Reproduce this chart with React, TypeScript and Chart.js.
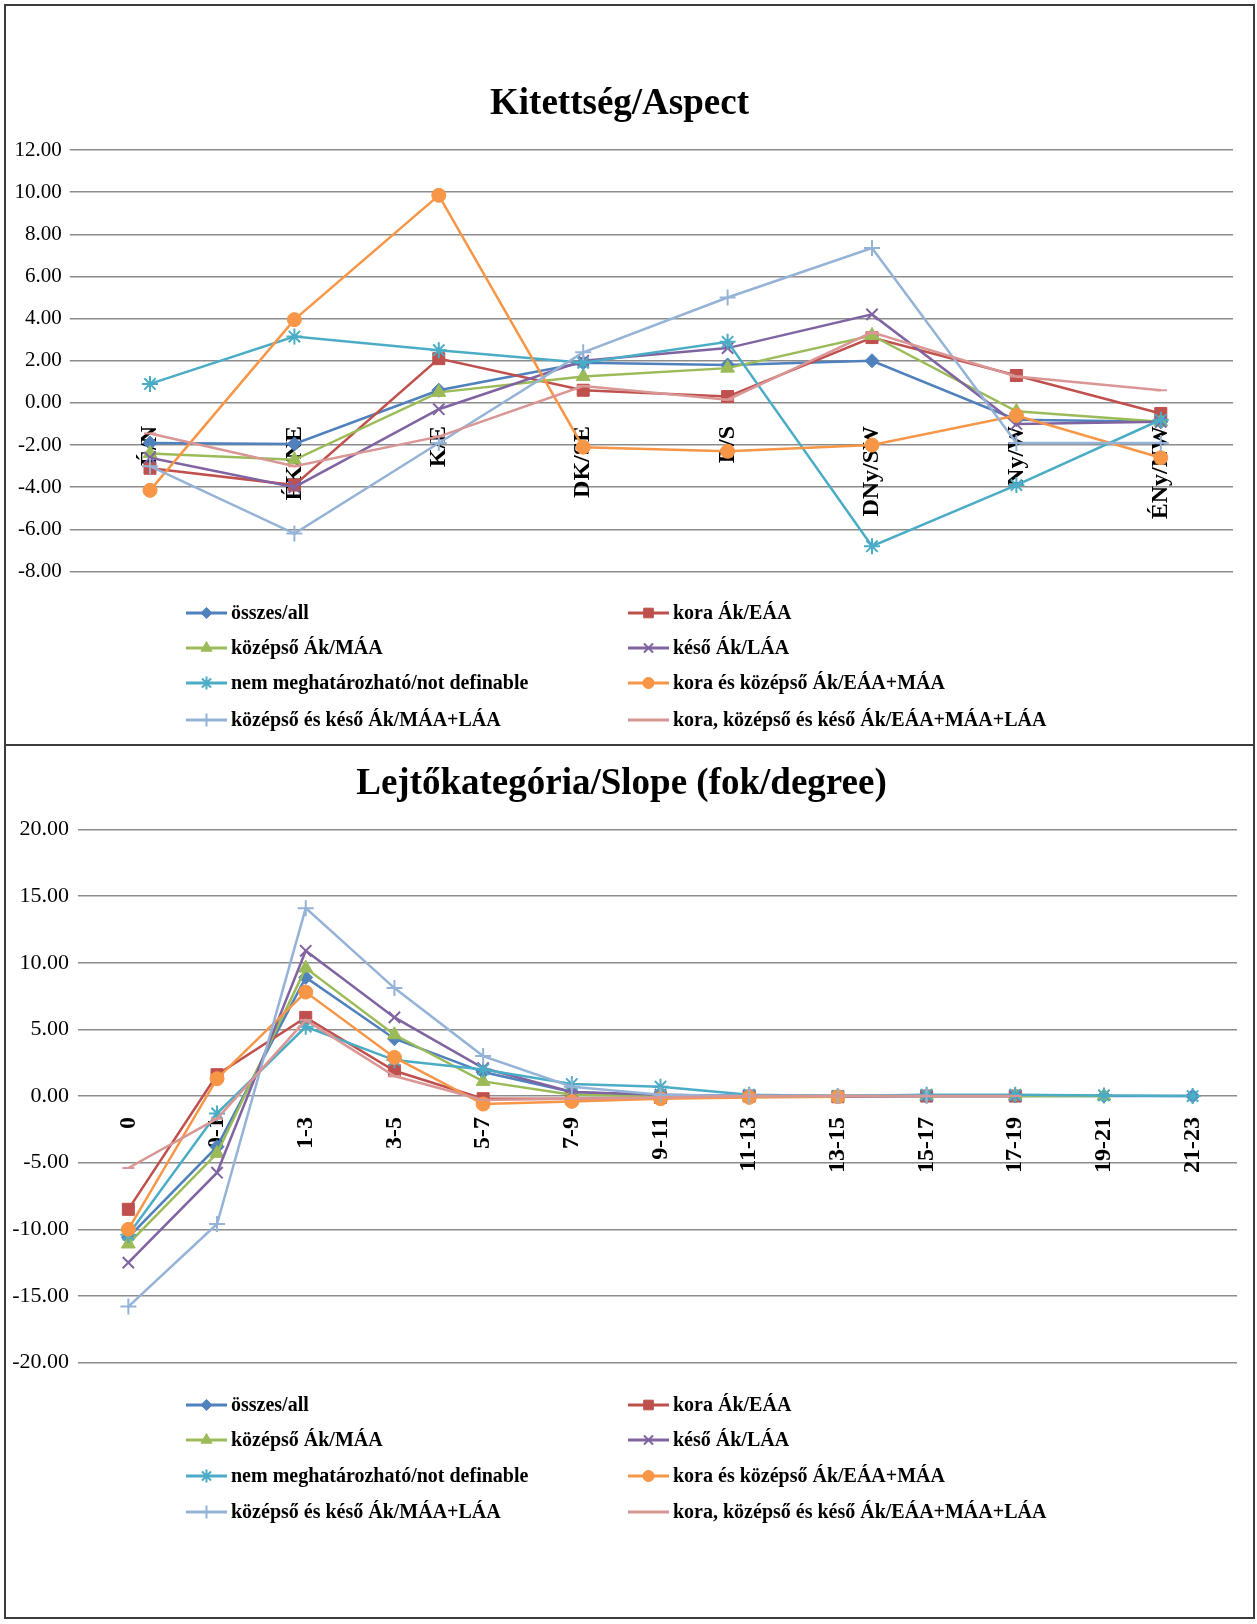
import React, { useEffect, useRef } from 'react';
import { Chart, registerables, PointElement } from 'chart.js';

Chart.register(...registerables);

const SERIF = "'Liberation Serif', 'Times New Roman', 'DejaVu Serif', serif";

// ---- series names (shared by both charts) ----
const seriesNames = [
  'összes/all',
  'kora Ák/EÁA',
  'középső Ák/MÁA',
  'késő Ák/LÁA',
  'nem meghatározható/not definable',
  'kora és középső Ák/EÁA+MÁA',
  'középső és késő Ák/MÁA+LÁA',
  'kora, középső és késő Ák/EÁA+MÁA+LÁA',
];

// ---- aspect (Kitettség) ----
const aspectLabels = ['É/N', 'ÉK/NE', 'K/E', 'DK/SE', 'D/S', 'DNy/SW', 'Ny/W', 'ÉNy/NW'];
const aspectAll = [-1.9, -1.95, 0.6, 1.9, 1.8, 2.0, -0.8, -0.9];
const aspectEarly = [-3.1, -3.9, 2.1, 0.6, 0.3, 3.1, 1.3, -0.5];
const aspectMiddle = [-2.4, -2.7, 0.5, 1.25, 1.65, 3.2, -0.4, -0.9];
const aspectLate = [-2.6, -4.0, -0.3, 2.0, 2.6, 4.2, -1.0, -0.9];
const aspectUndefined = [0.9, 3.15, 2.5, 1.9, 2.9, -6.8, -3.9, -0.8];
const aspectEarlyMiddle = [-4.15, 3.95, 9.85, -2.1, -2.3, -2.0, -0.6, -2.6];
const aspectMiddleLate = [-3.0, -6.2, -1.9, 2.4, 5.0, 7.35, -1.9, -1.9];
const aspectAllPeriods = [-1.45, -3.0, -1.6, 0.8, 0.15, 3.35, 1.25, 0.6];

// ---- slope (Lejtőkategória) ----
const slopeLabels = ['0', '0-1', '1-3', '3-5', '5-7', '7-9', '9-11', '11-13', '13-15', '15-17', '17-19', '19-21', '21-23'];
const slopeAll = [-10.6, -3.8, 8.9, 4.3, 1.8, 0.3, 0.05, 0, 0, 0, 0, 0, 0];
const slopeEarly = [-8.5, 1.6, 5.9, 1.9, -0.2, -0.2, -0.1, 0, -0.05, 0, 0, null, null];
const slopeMiddle = [-11.1, -4.3, 9.6, 4.6, 1.1, 0.1, 0, 0, 0, 0, 0, 0, null];
const slopeLate = [-12.5, -5.75, 10.9, 5.9, 2.1, 0.3, 0.1, 0, 0, 0, 0, null, null];
const slopeUndefined = [-10.4, -1.3, 5.2, 2.7, 2.0, 0.9, 0.7, 0.1, 0, 0.1, 0.1, 0.05, 0];
const slopeEarlyMiddle = [-10.0, 1.3, 7.8, 2.9, -0.6, -0.4, -0.2, -0.1, -0.05, null, null, null, null];
const slopeMiddleLate = [-15.8, -9.6, 14.1, 8.1, 3.0, 0.7, 0.1, 0, 0, 0, null, null, null];
const slopeAllPeriods = [-5.4, -1.7, 5.7, 1.5, -0.3, -0.2, -0.1, 0, 0, 0, 0, null, null];

// ---- series styling ----
const seriesColors = ['#4F81BD', '#C0504D', '#9BBB59', '#8064A2', '#4BACC6', '#F79646', '#95B3D7', '#D99694'];
const markerStyles = ['rectRot', 'rect', 'triangle', 'crossRot', 'star', 'circle', 'cross', 'line'];
const markerRadii = [7, 8.5, 8, 8, 8, 7, 8, 6];
const strokeMarkers = new Set(['crossRot', 'star', 'cross', 'line']);

type Spec = {
  title: string;
  labels: string[];
  series: (number | null)[][];
  yMin: number;
  yMax: number;
  yStep: number;
  width: number;
  height: number;
  titlePadTop: number;
  titlePadBottom: number;
  padBottom: number;
  padRight: number;
  yAxisWidth: number;
  yTickLen: number;
  yTickPad: number;
  yFontSize: number;
  xLabelPad: number;
  legendRows: number[];
};

const aspectSpec: Spec = {
  title: 'Kitettség/Aspect',
  labels: aspectLabels,
  series: [aspectAll, aspectEarly, aspectMiddle, aspectLate, aspectUndefined, aspectEarlyMiddle, aspectMiddleLate, aspectAllPeriods],
  yMin: -8,
  yMax: 12,
  yStep: 2,
  width: 1247,
  height: 738,
  titlePadTop: 75.8,
  titlePadBottom: 23.8,
  padBottom: 172.5,
  padRight: 20,
  yAxisWidth: 71.8,
  yTickLen: 8,
  yTickPad: 8,
  yFontSize: 21,
  xLabelPad: 23,
  legendRows: [607, 642, 677, 714],
};

const slopeSpec: Spec = {
  title: 'Lejtőkategória/Slope (fok/degree)',
  labels: slopeLabels,
  series: [slopeAll, slopeEarly, slopeMiddle, slopeLate, slopeUndefined, slopeEarlyMiddle, slopeMiddleLate, slopeAllPeriods],
  yMin: -20,
  yMax: 20,
  yStep: 5,
  width: 1247,
  height: 871,
  titlePadTop: 15.8,
  titlePadBottom: 23.3,
  padBottom: 254.4,
  padRight: 16,
  yAxisWidth: 78,
  yTickLen: 6,
  yTickPad: 9,
  yFontSize: 22,
  xLabelPad: 21,
  legendRows: [659, 694, 730, 766],
};

// Two-column legend drawn under the plot, row-major like the spreadsheet legend.
function makeLegendPlugin(rows: number[]) {
  return {
    id: 'twoColumnLegend',
    afterDraw(chart: any) {
      const ctx = chart.ctx;
      const colX = [180, 622];
      const lineLen = 41;
      ctx.save();
      chart.data.datasets.forEach((ds: any, i: number) => {
        const col = i % 2;
        const row = Math.floor(i / 2);
        const x1 = colX[col];
        const x2 = x1 + lineLen;
        const y = rows[row];
        ctx.beginPath();
        ctx.strokeStyle = ds.borderColor;
        ctx.lineWidth = 3;
        ctx.lineCap = 'butt';
        ctx.moveTo(x1, y);
        ctx.lineTo(x2, y);
        ctx.stroke();
        const style = markerStyles[i];
        const pt = new (PointElement as any)({
          x: (x1 + x2) / 2,
          y,
          options: {
            pointStyle: style,
            radius: markerRadii[i] * 0.8,
            rotation: 0,
            borderWidth: strokeMarkers.has(style) ? 2 : 1,
            borderColor: ds.borderColor,
            backgroundColor: ds.borderColor,
          },
        });
        pt.draw(ctx, { left: -1e5, top: -1e5, right: 1e5, bottom: 1e5 });
        ctx.fillStyle = '#000';
        ctx.font = `bold 20px ${SERIF}`;
        ctx.textAlign = 'left';
        ctx.textBaseline = 'middle';
        ctx.fillText(ds.label, x2 + 4, y + 1);
      });
      ctx.restore();
    },
  };
}

function LinePanel({ spec }: { spec: Spec }) {
  const ref = useRef<HTMLCanvasElement | null>(null);

  useEffect(() => {
    if (!ref.current) return;
    const datasets = spec.series.map((data, i) => ({
      label: seriesNames[i],
      data,
      borderColor: seriesColors[i],
      backgroundColor: seriesColors[i],
      borderWidth: 2.5,
      tension: 0,
      pointStyle: markerStyles[i],
      pointRadius: markerRadii[i],
      pointHoverRadius: markerRadii[i],
      pointBorderColor: seriesColors[i],
      pointBackgroundColor: seriesColors[i],
      pointBorderWidth: strokeMarkers.has(markerStyles[i]) ? 2 : 1,
      order: spec.series.length - i,
      spanGaps: false,
    }));

    const chart = new Chart(ref.current, {
      type: 'line',
      data: { labels: spec.labels, datasets },
      options: {
        responsive: false,
        animation: false,
        devicePixelRatio: 1,
        events: [],
        layout: { padding: { left: 0, top: 0, right: spec.padRight, bottom: spec.padBottom } },
        plugins: {
          legend: { display: false },
          tooltip: { enabled: false },
          title: {
            display: true,
            text: spec.title,
            color: '#000',
            font: { family: SERIF, size: 37, weight: 'bold', lineHeight: 1.2 },
            padding: { top: spec.titlePadTop, bottom: spec.titlePadBottom },
          },
        },
        scales: {
          x: {
            type: 'category',
            position: { y: 0 },
            offset: true,
            grid: { display: false, drawTicks: false },
            border: { display: false },
            ticks: {
              autoSkip: false,
              minRotation: 90,
              maxRotation: 90,
              padding: spec.xLabelPad,
              color: '#000',
              font: { family: SERIF, size: 24, weight: 'bold' },
            },
          },
          y: {
            type: 'linear',
            min: spec.yMin,
            max: spec.yMax,
            grid: {
              color: '#8c8c8c',
              lineWidth: 1.5,
              drawTicks: true,
              tickLength: spec.yTickLen,
            },
            border: { display: false },
            ticks: {
              stepSize: spec.yStep,
              padding: spec.yTickPad,
              color: '#000',
              font: { family: SERIF, size: spec.yFontSize },
              callback: (v: any) => Number(v).toFixed(2),
            },
            afterFit: (scale: any) => {
              scale.width = spec.yAxisWidth;
            },
          },
        },
      } as any,
      plugins: [makeLegendPlugin(spec.legendRows)],
    });

    return () => chart.destroy();
  }, [spec]);

  return (
    <canvas
      ref={ref}
      width={spec.width}
      height={spec.height}
      style={{ display: 'block', width: spec.width, height: spec.height }}
    />
  );
}

export default function App() {
  return (
    <div
      style={{
        position: 'absolute',
        left: 0,
        top: 0,
        width: 1257,
        height: 1624,
        background: '#fff',
        overflow: 'hidden',
      }}
    >
      <div
        style={{
          position: 'absolute',
          left: 4,
          top: 4,
          width: 1251,
          height: 1615,
          boxSizing: 'border-box',
          border: '2px solid #3c3c3c',
        }}
      />
      <div style={{ position: 'absolute', left: 6, top: 6 }}>
        <LinePanel spec={aspectSpec} />
      </div>
      <div
        style={{ position: 'absolute', left: 4, top: 744, width: 1251, height: 2, background: '#3c3c3c' }}
      />
      <div style={{ position: 'absolute', left: 6, top: 746 }}>
        <LinePanel spec={slopeSpec} />
      </div>
    </div>
  );
}
